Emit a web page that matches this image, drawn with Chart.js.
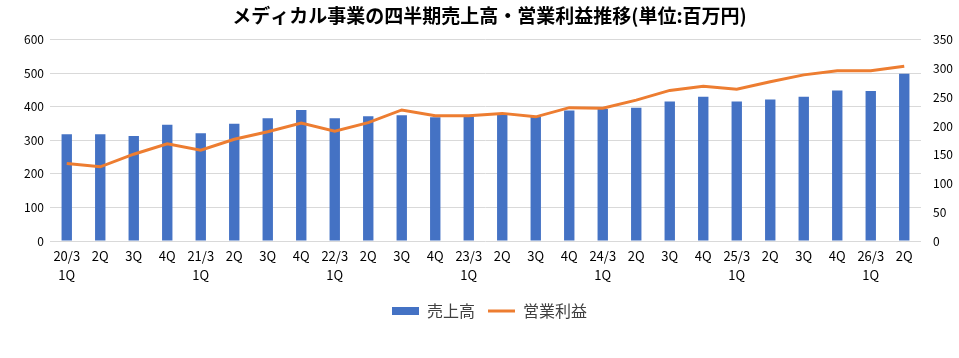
<!DOCTYPE html>
<html>
<head>
<meta charset="utf-8">
<script src="https://cdn.jsdelivr.net/npm/chart.js@4.4.1/dist/chart.umd.min.js"></script>
<style>
  html, body { margin: 0; padding: 0; background: #fff; }
  #wrap { width: 959px; height: 358px; }
</style>
</head>
<body>
<div id="wrap"><canvas id="medChart" width="959" height="358"></canvas></div>
<script>
  // 四半期ラベル
  var quarters = [
    ['20/3', '1Q'], '2Q', '3Q', '4Q',
    ['21/3', '1Q'], '2Q', '3Q', '4Q',
    ['22/3', '1Q'], '2Q', '3Q', '4Q',
    ['23/3', '1Q'], '2Q', '3Q', '4Q',
    ['24/3', '1Q'], '2Q', '3Q', '4Q',
    ['25/3', '1Q'], '2Q', '3Q', '4Q',
    ['26/3', '1Q'], '2Q'
  ];

  // 売上高 (left axis)
  var uriage = [318, 318, 313, 347, 321, 350, 366, 391,
                366, 372, 375, 369, 371, 378, 370, 389,
                394, 397, 416, 430, 416, 422, 430, 449,
                447, 499];

  // 営業利益 (right axis)
  var eigyoRieki = [135, 129, 151, 169, 158, 177, 190, 205,
                    191, 206, 228, 218, 218, 222, 216, 232,
                    231, 245, 262, 269, 264, 277, 289, 296,
                    296, 304];

  var jpFont = '"Noto Sans CJK JP", "Noto Sans", sans-serif';

  var ctx = document.getElementById('medChart').getContext('2d');
  var medChart = new Chart(ctx, {
    data: {
      labels: quarters,
      datasets: [{
        type: 'bar',
        label: '売上高',
        data: uriage,
        backgroundColor: '#4472C4',
        borderWidth: 0,
        barPercentage: 0.62,
        categoryPercentage: 0.5,
        yAxisID: 'y',
        order: 1
      }, {
        type: 'line',
        label: '営業利益',
        data: eigyoRieki,
        borderColor: '#ED7D31',
        backgroundColor: '#ED7D31',
        borderWidth: 3,
        pointRadius: 0,
        tension: 0,
        yAxisID: 'y2',
        order: 0
      }]
    },
    options: {
      responsive: false,
      animation: false,
      // left padding shifts title/legend centre like the original
      layout: { padding: { left: 20, right: 0, top: 4, bottom: 29 } },
      plugins: {
        title: {
          display: true,
          text: 'メディカル事業の四半期売上高・営業利益推移(単位:百万円)',
          color: '#000',
          font: { family: jpFont, size: 19, weight: 'bold' },
          padding: { top: 0, bottom: 13 }
        },
        legend: {
          position: 'bottom',
          labels: {
            color: '#404040',
            font: { family: jpFont, size: 16 },
            usePointStyle: true,
            pointStyleWidth: 27,
            boxHeight: 8,
            padding: 13,
            generateLabels: function (chart) {
              var items = Chart.defaults.plugins.legend.labels.generateLabels(chart);
              items.forEach(function (it) {
                it.pointStyle = it.datasetIndex === 0 ? 'rect' : 'line';
                it.lineWidth = it.datasetIndex === 0 ? 0 : 3;
              });
              return items;
            },
            sort: function (a, b) { return a.datasetIndex - b.datasetIndex; }
          }
        },
        tooltip: { enabled: false }
      },
      scales: {
        x: {
          grid: { display: false, drawTicks: false },
          border: { display: false },
          ticks: {
            autoSkip: false,
            maxRotation: 0,
            padding: 5,
            color: '#000',
            font: { family: jpFont, size: 13, lineHeight: 1.5 }
          }
        },
        y: {
          position: 'left',
          min: 0,
          max: 600,
          ticks: {
            stepSize: 100,
            padding: 6,
            color: '#000',
            font: { family: jpFont, size: 12 }
          },
          grid: { color: '#d9d9d9', drawTicks: false },
          border: { display: false },
          afterFit: function (scale) { scale.width = 30; }
        },
        y2: {
          position: 'right',
          min: 0,
          max: 350,
          ticks: {
            stepSize: 50,
            padding: 12,
            color: '#000',
            font: { family: jpFont, size: 12 }
          },
          grid: { drawOnChartArea: false, drawTicks: false },
          border: { display: false },
          afterFit: function (scale) { scale.width = 38; }
        }
      }
    }
  });
</script>
</body>
</html>
